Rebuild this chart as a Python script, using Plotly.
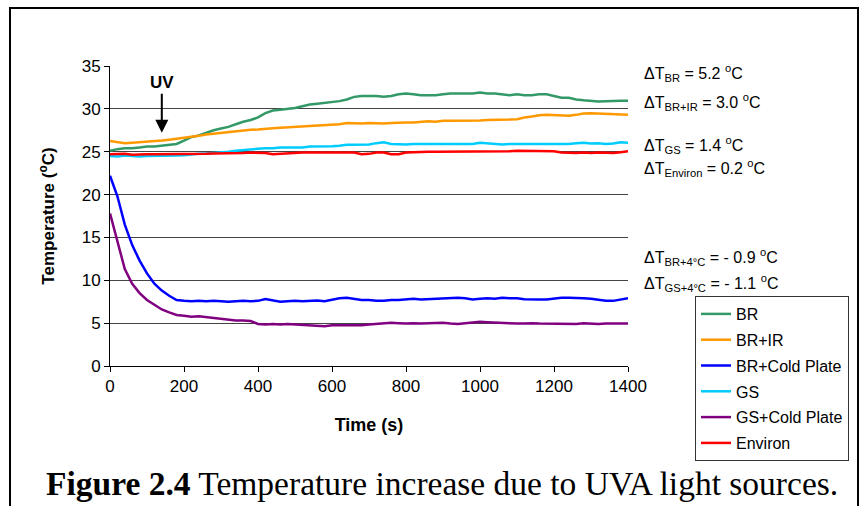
import plotly.graph_objects as go

# time axis, one reading every 20 s
time_s = list(range(0, 1401, 20))

br = [25.1, 25.3, 25.4, 25.4, 25.5, 25.6, 25.6, 25.7, 25.8, 25.9,
      26.3, 26.7, 26.9, 27.2, 27.5, 27.7, 27.9, 28.2, 28.5, 28.7,
      29.0, 29.5, 29.8, 29.9, 30.0, 30.1, 30.3, 30.5, 30.6, 30.7,
      30.8, 30.9, 31.1, 31.4, 31.5, 31.5, 31.5, 31.4, 31.5, 31.7,
      31.8, 31.7, 31.6, 31.6, 31.6, 31.7, 31.8, 31.8, 31.8, 31.8,
      31.9, 31.8, 31.8, 31.7, 31.6, 31.7, 31.6, 31.6, 31.7, 31.7,
      31.5, 31.3, 31.3, 31.1, 31.0, 30.9, 30.85, 30.9, 30.95, 30.95, 30.95]

br_ir = [26.25, 26.1, 26.0, 26.05, 26.1, 26.2, 26.25, 26.3, 26.4, 26.5,
         26.6, 26.7, 26.85, 27.0, 27.1, 27.2, 27.3, 27.4, 27.5, 27.55,
         27.6, 27.7, 27.75, 27.8, 27.85, 27.9, 27.95, 28.0, 28.0, 28.1,
         28.15, 28.2, 28.35, 28.3, 28.3, 28.35, 28.3, 28.3, 28.35, 28.4,
         28.4, 28.4, 28.5, 28.55, 28.5, 28.6, 28.6, 28.6, 28.6, 28.65,
         28.65, 28.7, 28.7, 28.7, 28.75, 28.8, 29.0, 29.1, 29.25, 29.3,
         29.25, 29.2, 29.2, 29.3, 29.45, 29.5, 29.45, 29.4, 29.35, 29.35, 29.3]

br_cold = [22.2, 19.8, 16.5, 14.1, 12.3, 10.8, 9.6, 8.8, 8.2, 7.7,
           7.6, 7.55, 7.6, 7.55, 7.6, 7.55, 7.5, 7.55, 7.6, 7.55,
           7.6, 7.8, 7.65, 7.5, 7.55, 7.6, 7.55, 7.6, 7.65, 7.55,
           7.7, 7.9, 7.95, 7.8, 7.7, 7.7, 7.6, 7.6, 7.7, 7.7,
           7.75, 7.85, 7.75, 7.8, 7.8, 7.85, 7.9, 7.95, 7.9, 7.75,
           7.85, 7.9, 7.85, 7.95, 7.9, 7.9, 7.8, 7.75, 7.75, 7.75,
           7.85, 7.95, 7.95, 7.95, 7.9, 7.85, 7.75, 7.6, 7.6, 7.75, 7.9]

gs = [24.5, 24.45, 24.55, 24.5, 24.45, 24.5, 24.5, 24.5, 24.5, 24.55,
      24.6, 24.7, 24.75, 24.8, 24.85, 24.9, 25.0, 25.1, 25.2, 25.3,
      25.35, 25.4, 25.4, 25.5, 25.5, 25.45, 25.5, 25.6, 25.6, 25.6,
      25.65, 25.7, 25.8, 25.8, 25.8, 25.85, 26.0, 26.1, 25.9, 25.85,
      25.85, 25.9, 25.9, 25.85, 25.9, 25.9, 25.85, 25.9, 25.85, 25.9,
      26.05, 26.0, 25.9, 25.85, 25.9, 25.9, 25.9, 25.9, 25.9, 25.9,
      25.95, 25.9, 25.9, 26.0, 26.05, 25.95, 26.0, 25.9, 25.95, 26.1, 26.05]

gs_cold = [17.8, 14.4, 11.3, 9.6, 8.5, 7.7, 7.1, 6.6, 6.25, 5.95,
           5.85, 5.75, 5.8, 5.7, 5.55, 5.45, 5.35, 5.3, 5.3, 5.25,
           4.9, 4.85, 4.9, 4.85, 4.9, 4.85, 4.8, 4.8, 4.75, 4.65,
           4.75, 4.75, 4.8, 4.8, 4.75, 4.85, 4.9, 4.95, 5.05, 5.0,
           4.95, 5.0, 4.95, 5.0, 5.05, 5.05, 4.95, 4.9, 5.0, 5.1,
           5.15, 5.1, 5.05, 5.0, 5.0, 4.95, 4.95, 5.0, 4.95, 4.95,
           4.9, 4.95, 4.95, 4.9, 5.0, 4.95, 4.9, 4.95, 4.95, 4.95, 4.95]

environ = [24.7, 24.7, 24.75, 24.65, 24.7, 24.7, 24.7, 24.7, 24.7, 24.75,
           24.75, 24.75, 24.75, 24.75, 24.8, 24.8, 24.8, 24.85, 24.85, 24.9,
           24.85, 24.85, 24.7, 24.75, 24.85, 24.9, 24.9, 24.9, 24.9, 24.9,
           24.9, 24.9, 24.9, 24.9, 24.7, 24.75, 24.9, 24.9, 24.7, 24.7,
           24.9, 24.95, 24.95, 25.0, 25.0, 25.0, 25.0, 25.0, 25.0, 25.0,
           25.0, 25.05, 25.05, 25.05, 25.05, 25.1, 25.1, 25.05, 25.05, 25.05,
           25.05, 24.9, 24.85, 24.85, 24.9, 24.85, 24.9, 24.9, 24.85, 24.95, 25.05]

series_names = ["BR", "BR+IR", "BR+Cold Plate", "GS", "GS+Cold Plate", "Environ"]
series_values = [br, br_ir, br_cold, gs, gs_cold, environ]
series_colors = ["#339966", "#FF9900", "#0000FF", "#00CCFF", "#800080", "#FF0000"]

# delta-T notes on the right of the plot: (text, y pixel)
delta_notes = [
    ("ΔT<sub>BR</sub> = 5.2 <sup>o</sup>C", 73),
    ("ΔT<sub>BR+IR</sub> = 3.0 <sup>o</sup>C", 102),
    ("ΔT<sub>GS</sub> = 1.4 <sup>o</sup>C", 145),
    ("ΔT<sub>Environ</sub> = 0.2 <sup>o</sup>C", 168),
    ("ΔT<sub>BR+4°C</sub> = - 0.9 <sup>o</sup>C", 257),
    ("ΔT<sub>GS+4°C</sub> = - 1.1 <sup>o</sup>C", 283),
]

FONT = "Arial, Liberation Sans, sans-serif"
W, H = 865, 506
L, R, T, B = 110, 628, 66, 366   # plot area in pixels


def px_x(px):
    return (px - L) / (R - L)


def px_y(py):
    return (B - py) / (B - T)


fig = go.Figure()

for i, (name, vals, col) in enumerate(zip(series_names, series_values, series_colors)):
    fig.add_trace(go.Scatter(
        x=time_s, y=vals, mode="lines", name=name,
        line={'color': col, 'width': 2.5},
        legendgroup=f"g{i}",
    ))

annotations = []
for text, py in delta_notes:
    annotations.append(dict(
        x=px_x(642), y=px_y(py), xref="paper", yref="paper",
        xanchor="left", yanchor="middle", showarrow=False,
        text=text, font={'family': FONT, 'size': 16, 'color': 'black'},
    ))

# UV arrow
annotations.append(dict(
    x=140, y=27.2, xref="x", yref="y", ax=0, ay=-50,
    text="<b>UV</b>", showarrow=True, arrowhead=2, arrowsize=1.3,
    arrowwidth=2, arrowcolor="black",
    font={'family': FONT, 'size': 17, 'color': 'black'},
))

# caption
annotations.append(dict(
    x=px_x(44), y=px_y(483), xref="paper", yref="paper",
    xanchor="left", yanchor="middle", showarrow=False,
    text="<b>Figure 2.4</b> Temperature increase due to UVA light sources.",
    font={'family': "Times New Roman, Liberation Serif, serif", 'size': 33.5, 'color': 'black'},
))

fig.update_layout(
    width=W, height=H,
    margin={'l': L, 'r': W - R, 't': T, 'b': H - B},
    paper_bgcolor="white", plot_bgcolor="white",
    font={'family': FONT, 'color': 'black'},
    showlegend=True,
    legend={
        'x': px_x(695), 'y': px_y(296), 'xanchor': 'left', 'yanchor': 'top',
        'bordercolor': '#333333', 'borderwidth': 1, 'bgcolor': 'white',
        'font': {'family': FONT, 'size': 16},
        'traceorder': 'grouped', 'tracegroupgap': 2,
    },
    xaxis={
        'range': [0, 1400], 'tickvals': list(range(0, 1401, 200)),
        'showgrid': False, 'zeroline': False,
        'showline': True, 'linecolor': 'black', 'linewidth': 1,
        'ticks': 'outside', 'ticklen': 5, 'tickcolor': 'black',
        'tickfont': {'family': FONT, 'size': 17},
        'title': {'text': '<b>Time (s)</b>', 'font': {'family': FONT, 'size': 18}, 'standoff': 22},
    },
    yaxis={
        'range': [0, 35], 'tickvals': list(range(0, 36, 5)),
        'showgrid': True, 'gridcolor': '#444444', 'gridwidth': 1, 'zeroline': False,
        'showline': True, 'linecolor': 'black', 'linewidth': 1,
        'ticks': 'outside', 'ticklen': 5, 'tickcolor': 'black',
        'tickfont': {'family': FONT, 'size': 17},
        'title': {'text': '<b>Temperature (<sup>o</sup>C)</b>', 'font': {'family': FONT, 'size': 17}, 'standoff': 22},
    },
    annotations=annotations,
    shapes=[dict(
        type="rect", xref="paper", yref="paper",
        x0=px_x(10), x1=px_x(858), y0=px_y(8), y1=px_y(520),
        line={'color': 'black', 'width': 2}, fillcolor="rgba(0,0,0,0)", layer="below",
    )],
)

# the page body keeps its default 8px margin otherwise
fig.write_html("out.html", config={'displayModeBar': False},
               post_script="document.body.style.margin='0';")
